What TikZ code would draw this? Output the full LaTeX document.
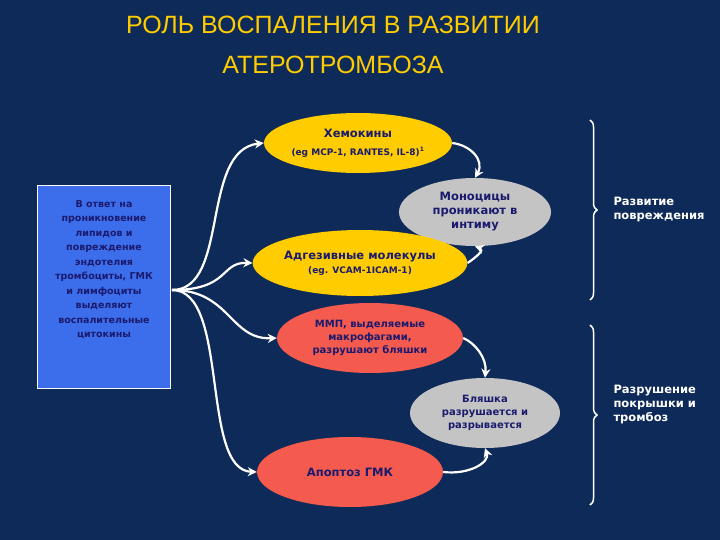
\documentclass[tikz,border=0pt]{standalone}
\usepackage{fontspec}
\setmainfont{DejaVu Sans}
\newfontfamily\titlefont{Liberation Sans}
\usetikzlibrary{shapes.geometric,arrows.meta,decorations.pathreplacing}
\definecolor{bg}{HTML}{0E2A58}
\definecolor{ylw}{HTML}{FFCC00}
\definecolor{gry}{HTML}{C4C4C4}
\definecolor{rd}{HTML}{F45A4E}
\definecolor{txt}{HTML}{1A1A6E}
\definecolor{bluebox}{HTML}{3C6DEB}
\begin{document}
\begin{tikzpicture}[x=1pt,y=-1pt,
  ell/.style={ellipse,inner sep=0pt,font=\fontsize{11.5}{14}\selectfont\bfseries,text=txt,align=center},
  conn/.style={draw=white,line width=2.2pt,-{Stealth[length=9pt,width=9pt]}},
  side/.style={text=white,font=\fontsize{11.5}{14}\selectfont\bfseries,align=left,anchor=west},
  br/.style={draw=white,line width=1.5pt,decorate,decoration={brace,amplitude=7pt}}]
\fill[bg] (0,0) rectangle (720,540);
\useasboundingbox (0,0) rectangle (720,540);
\node[text=ylw,font=\titlefont\fontsize{25}{40}\selectfont,align=center] (title) at (333,45) {РОЛЬ ВОСПАЛЕНИЯ В РАЗВИТИИ\\АТЕРОТРОМБОЗА};
\node[draw=white,line width=0.8pt,fill=bluebox,minimum width=133pt,minimum height=203pt] (box) at (104,287) {};
\node[anchor=north,align=center,text=txt,font=\fontsize{9.5}{14.5}\selectfont\bfseries] (boxtext) at (104,197)
 {В ответ на\\проникновение\\липидов и\\повреждение\\эндотелия\\тромбоциты, ГМК\\и лимфоциты\\выделяют\\воспалительные\\цитокины};
\node[ell,fill=ylw,minimum width=170pt,minimum height=60pt] (chem) at (358,143) {Хемокины\\[4pt]{\fontsize{9}{10}\selectfont (eg MCP-1, RANTES, IL-8)\textsuperscript{1}}};
\node[ell,fill=gry,minimum width=152pt,minimum height=68pt,font=\fontsize{11.5}{14}\selectfont\bfseries] (mono) at (475,212) {Моноцицы\\проникают в\\интиму};
\node[ell,fill=ylw,minimum width=192pt,minimum height=66pt] (adh) at (360,263) {Адгезивные молекулы\\{\fontsize{9}{11}\selectfont (eg. VCAM-1ICAM-1)}};
\node[ell,fill=rd,minimum width=186pt,minimum height=70pt,font=\fontsize{10}{13}\selectfont\bfseries] (mmp) at (370,338) {ММП, выделяемые\\макрофагами,\\разрушают бляшки};
\node[ell,fill=gry,minimum width=150pt,minimum height=70pt,font=\fontsize{10}{13}\selectfont\bfseries] (plq) at (485,413) {Бляшка\\разрушается и\\разрывается};
\node[ell,fill=rd,minimum width=186pt,minimum height=70pt] (apo) at (350,472) {Апоптоз ГМК};
\coordinate (src) at (172,290);
\draw[conn] (src) .. controls (230,290) and (200,150) .. (chem.west);
\draw[conn] (src) .. controls (230,290) and (220,262) .. (adh.west);
\draw[conn] (src) .. controls (230,290) and (230,340) .. (mmp.west);
\draw[conn] (src) .. controls (230,290) and (200,470) .. (apo.west);
\draw[conn] (chem.east) .. controls (470,145) and (485,160) .. (mono.north);
\draw[conn] (adh.east) .. controls (475,258) and (485,250) .. (mono.south);
\draw[conn] (mmp.east) .. controls (475,343) and (487,358) .. (plq.north);
\draw[conn] (apo.east) .. controls (470,475) and (490,462) .. (plq.south);
\draw[br] (590,120) -- (590,300);
\draw[br] (590,325) -- (590,505);
\node[side] (l1) at (610,210) {Развитие\\повреждения};
\node[side] (l2) at (610,405) {Разрушение\\покрышки и\\тромбоз};
\end{tikzpicture}
\end{document}
